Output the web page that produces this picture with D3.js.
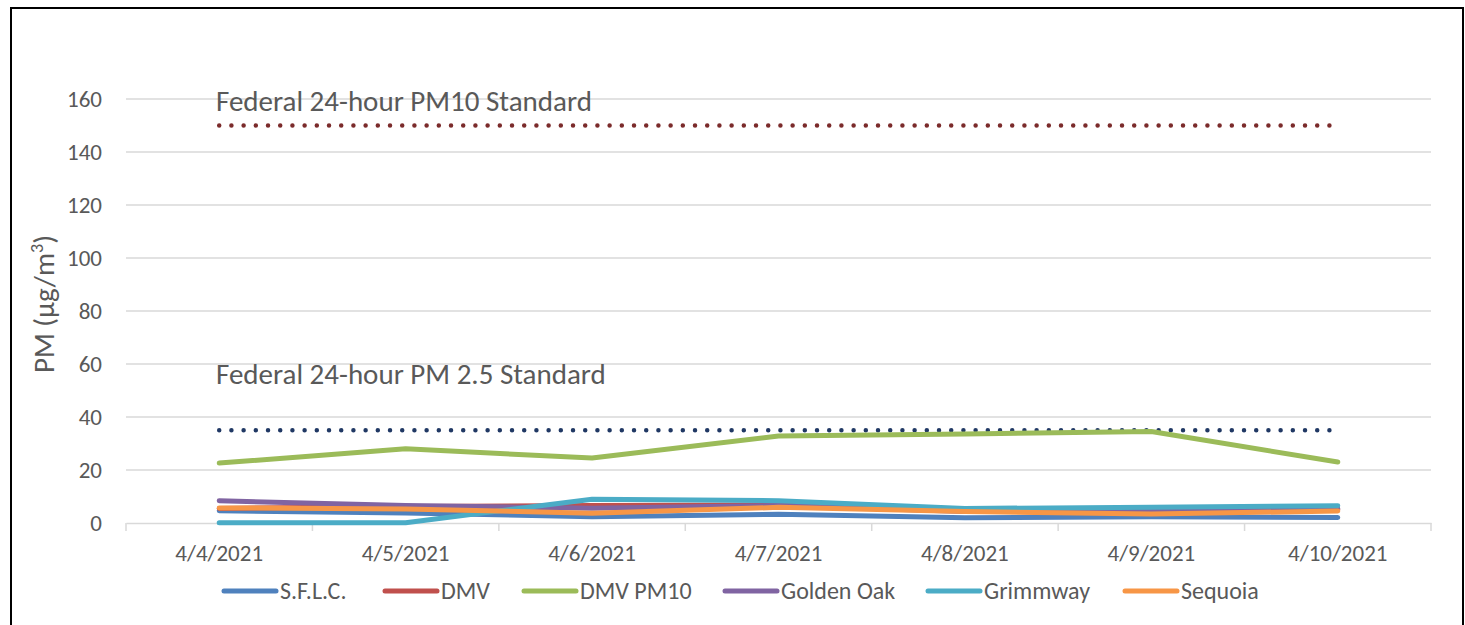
<!DOCTYPE html>
<html><head><meta charset="utf-8">
<script src="https://cdn.jsdelivr.net/npm/d3@7"></script>
<style>body{margin:0;background:#fff}svg{display:block}</style>
</head><body>
<script>
const categories = ["4/4/2021","4/5/2021","4/6/2021","4/7/2021","4/8/2021","4/9/2021","4/10/2021"];
const seriesNames = ["S.F.L.C.","DMV","DMV PM10","Golden Oak","Grimmway","Sequoia"];
const sflc = [4.6, 3.8, 2.4, 3.3, 2.0, 2.4, 2.1];
const dmv = [5.5, 6.2, 6.6, 6.8, 4.6, 3.8, 5.0];
const dmvPM10 = [22.6, 28.0, 24.5, 32.8, 33.6, 34.5, 23.0];
const goldenOak = [8.4, 6.6, 5.6, 6.6, 4.3, 4.3, 5.5];
const grimmway = [0.1, 0.1, 9.0, 8.4, 5.5, 5.9, 6.5];
const sequoia = [5.7, 5.3, 3.7, 5.9, 4.3, 3.4, 4.5];
const pm10Standard = [150,150,150,150,150,150,150];
const pm25Standard = [35,35,35,35,35,35,35];
const yTicks = [0,20,40,60,80,100,120,140,160];
const colors = ["#4F81BD","#C0504D","#9BBB59","#8064A2","#4BACC6","#F79646"];

const W=1465,H=625;
const font="Carlito, Lato, 'Liberation Sans', sans-serif";
const svg=d3.select("body").append("svg").attr("width",W).attr("height",H);
svg.append("rect").attr("x",11).attr("y",8).attr("width",1452).attr("height",630).attr("fill","#fff").attr("stroke","#000").attr("stroke-width",2);

const x=d3.scaleBand().domain(categories).range([126,1431]);
const y=d3.scaleLinear().domain([0,160]).range([523,99]);
const cx=c=>x(c)+x.bandwidth()/2;

// gridlines
svg.append("g").selectAll("line").data(yTicks.filter(t=>t>0)).join("line")
 .attr("x1",126).attr("x2",1431).attr("y1",d=>y(d)).attr("y2",d=>y(d))
 .attr("stroke","#d9d9d9").attr("stroke-width",1.3);
// x axis
const xa=svg.append("g").attr("transform","translate(0,"+y(0)+")")
 .call(d3.axisBottom(x).tickSize(0).tickPadding(22));
xa.select(".domain").attr("stroke","#d9d9d9").attr("stroke-width",1.5);
xa.selectAll("text").attr("font-family",font).attr("font-size",23).attr("fill","#595959");
svg.append("g").selectAll("line").data(d3.range(categories.length+1)).join("line")
 .attr("x1",i=>126+i*x.bandwidth()).attr("x2",i=>126+i*x.bandwidth())
 .attr("y1",y(0)).attr("y2",y(0)+8).attr("stroke","#d9d9d9").attr("stroke-width",1.5);
// y axis labels
const ya=svg.append("g").attr("transform","translate(126,0)").call(d3.axisLeft(y).tickValues(yTicks).tickSize(0).tickPadding(24));
ya.select(".domain").remove();
ya.selectAll("text").attr("font-family",font).attr("font-size",23).attr("fill","#595959");
svg.append("text").attr("transform","translate(54,304) rotate(-90)").attr("text-anchor","middle")
 .attr("font-family",font).attr("font-size",29).attr("fill","#595959")
 .html("PM (µg/m<tspan baseline-shift='super' font-size='18'>3</tspan>)");

// standards
const line=d3.line().x((d,i)=>cx(categories[i])).y(d=>y(d));
const stdLine=(data,col)=>svg.append("path").attr("d",line(data)).attr("fill","none")
 .attr("stroke",col).attr("stroke-width",4.5).attr("stroke-linecap","round").attr("stroke-dasharray","0 12.2");
stdLine(pm10Standard,"#7B2B2B");
stdLine(pm25Standard,"#203864");
svg.append("text").attr("x",216).attr("y",111).attr("font-family",font).attr("font-size",29).attr("fill","#595959").text("Federal 24-hour PM10 Standard");
svg.append("text").attr("x",216).attr("y",384).attr("font-family",font).attr("font-size",29).attr("fill","#595959").text("Federal 24-hour PM 2.5 Standard");

// series
const all=[sflc,dmv,dmvPM10,goldenOak,grimmway,sequoia];
all.forEach((s,k)=>{
 svg.append("path").attr("d",line(s)).attr("fill","none").attr("stroke",colors[k])
  .attr("stroke-width",5).attr("stroke-linecap","round").attr("stroke-linejoin","round");
});

// legend
const legX=[222,383,522,723,926,1123];
seriesNames.forEach((n,k)=>{
 const g=svg.append("g").attr("transform","translate("+legX[k]+",591)");
 g.append("line").attr("x1",2).attr("x2",54).attr("stroke",colors[k]).attr("stroke-width",5).attr("stroke-linecap","round");
 g.append("text").attr("x",58).attr("y",8).attr("font-family",font).attr("font-size",24).attr("fill","#595959").text(n);
});
</script>
</body></html>
